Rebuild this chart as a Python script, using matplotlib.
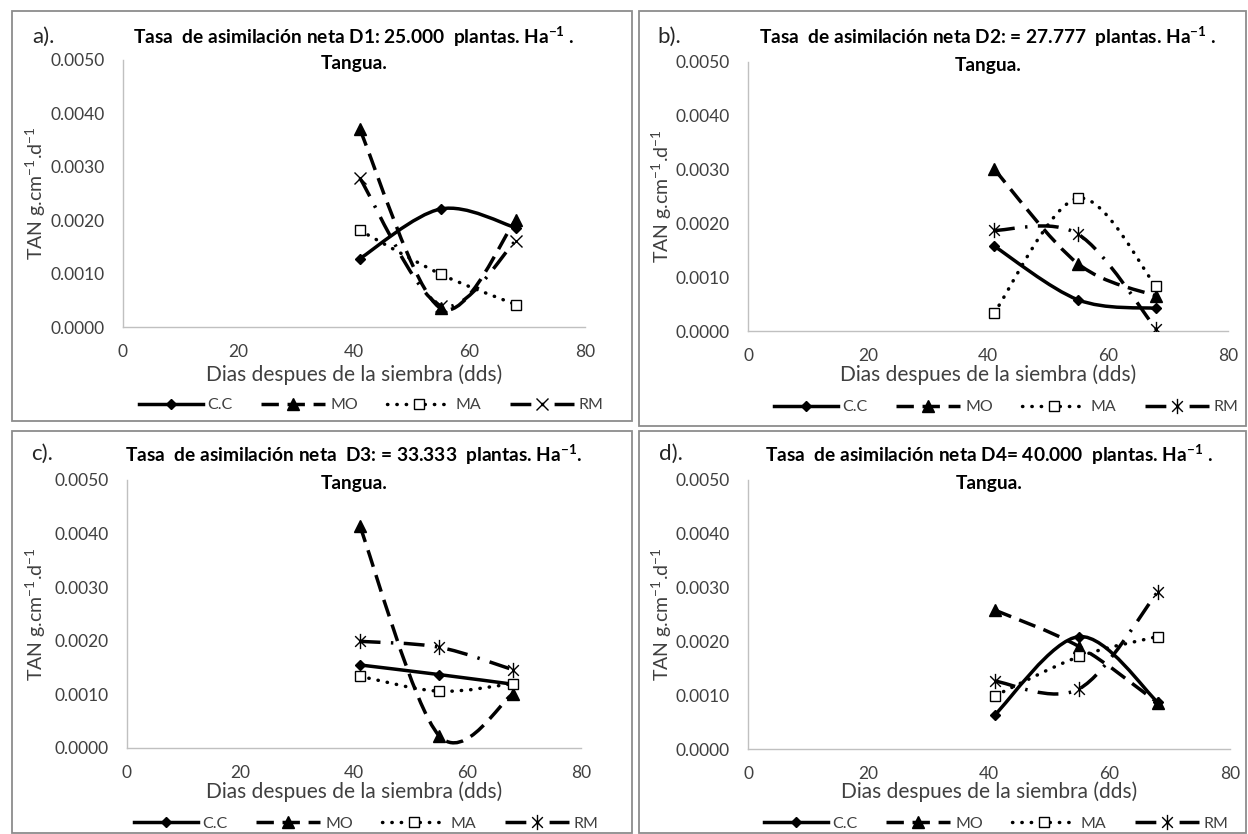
import numpy as np
import matplotlib
matplotlib.use('Agg')
import matplotlib.pyplot as plt
from matplotlib.path import Path
from matplotlib.patches import PathPatch, Rectangle
from matplotlib.lines import Line2D

plt.rcParams['font.family'] = ['Lato', 'DejaVu Sans']
plt.rcParams['mathtext.fontset'] = 'custom'
plt.rcParams['mathtext.rm'] = 'Lato'
plt.rcParams['mathtext.bf'] = 'Lato:bold'

# dias despues de la siembra
dias = [41, 55, 68]
series = ['C.C', 'MO', 'MA', 'RM']

# TAN por densidad (g.cm-1.d-1)
a_cc = [0.00128, 0.00221, 0.00186]
a_mo = [0.00370, 0.00035, 0.00200]
a_ma = [0.00181, 0.00099, 0.00042]
a_rm = [0.00279, 0.00040, 0.00161]

b_cc = [0.00158, 0.00058, 0.00042]
b_mo = [0.00301, 0.00125, 0.00065]
b_ma = [0.00033, 0.00247, 0.00083]
b_rm = [0.00187, 0.00180, 0.00004]

c_cc = [0.00155, 0.00137, 0.00119]
c_mo = [0.00415, 0.00023, 0.00101]
c_ma = [0.00134, 0.00106, 0.00120]
c_rm = [0.00199, 0.00188, 0.00146]

d_cc = [0.00064, 0.00209, 0.00087]
d_mo = [0.00258, 0.00190, 0.00086]
d_ma = [0.00099, 0.00172, 0.00209]
d_rm = [0.00126, 0.00112, 0.00292]

titulos = [
    r'Tasa  de asimilación neta D1: 25.000  plantas. Ha$^{\mathbf{-1}}$ .',
    r'Tasa  de asimilación neta D2: = 27.777  plantas. Ha$^{\mathbf{-1}}$ .',
    r'Tasa  de asimilación neta  D3: = 33.333  plantas. Ha$^{\mathbf{-1}}$.',
    r'Tasa  de asimilación neta D4= 40.000  plantas. Ha$^{\mathbf{-1}}$ .',
]
letras = ['a).', 'b).', 'c).', 'd).']

W, H = 1248, 834


def fx(x):
    return x / W


def fy(y):
    return 1 - y / H


# marcador estrella de Excel: X con linea vertical
estrella = Path([(-0.7, -0.7), (0.7, 0.7), (-0.7, 0.7), (0.7, -0.7), (0, -1), (0, 1)],
                [Path.MOVETO, Path.LINETO, Path.MOVETO, Path.LINETO, Path.MOVETO, Path.LINETO])

# estilos (C.C, MO, MA, RM)
estilos = [
    dict(ls='-', cap='round', marker='D', ms=5, mfc='k'),
    dict(ls=(0, (5, 2.5)), cap='butt', marker='^', ms=8, mfc='k'),
    dict(ls=(0, (0.1, 2.6)), cap='round', marker='s', ms=6.5, mfc='white'),
    dict(ls=(0, (6, 3, 0.7, 3)), cap='butt', marker='x', ms=9, mfc='k'),
]


def curva(xs, ys):
    # linea suavizada tipo Excel (Catmull-Rom como Bezier)
    pts = np.column_stack([xs, ys]).astype(float)
    n = len(pts)
    verts = [pts[0]]
    codes = [Path.MOVETO]
    for i in range(n - 1):
        p0 = pts[max(i - 1, 0)]
        p1 = pts[i]
        p2 = pts[i + 1]
        p3 = pts[min(i + 2, n - 1)]
        verts += [p1 + (p2 - p0) / 6, p2 - (p3 - p1) / 6, p2]
        codes += [Path.CURVE4] * 3
    return Path(verts, codes)


paneles = [
    dict(datos=[a_cc, a_mo, a_ma, a_rm], box=(123, 60, 585, 327), rm='x',
         lab=(32, 37), t1=37, t2=63, xl=375, yl=36, leg=(371, 405), frame=(12, 11, 632, 421)),
    dict(datos=[b_cc, b_mo, b_ma, b_rm], box=(748, 62, 1228, 331), rm=estrella,
         lab=(657, 37), t1=37, t2=65, xl=375, yl=662, leg=(1006, 407), frame=(639, 11, 1246, 426)),
    dict(datos=[c_cc, c_mo, c_ma, c_rm], box=(127, 480, 581, 748), rm=estrella,
         lab=(31, 454), t1=455, t2=484, xl=792, yl=36, leg=(366, 824), frame=(12, 431, 632, 833)),
    dict(datos=[d_cc, d_mo, d_ma, d_rm], box=(748, 480, 1230, 749), rm=estrella,
         lab=(659, 454), t1=455, t2=484, xl=792, yl=662, leg=(996, 824), frame=(639, 431, 1246, 833)),
]

fig = plt.figure(figsize=(W / 100, H / 100), dpi=100)

for k, p in enumerate(paneles):
    x0, y0, x1, y1, = p['frame']
    fig.add_artist(Rectangle((fx(x0), fy(y1)), fx(x1) - fx(x0), fy(y0) - fy(y1),
                             transform=fig.transFigure, fill=False, ec='#8c8c8c', lw=1.3))

    l, t, r, b = p['box']
    ax = fig.add_axes([fx(l), fy(b), fx(r) - fx(l), fy(t) - fy(b)])
    ax.set_xlim(0, 80)
    ax.set_ylim(0, 0.005)
    ax.set_xticks([0, 20, 40, 60, 80])
    ax.set_yticks(np.arange(0, 0.0051, 0.001))
    ax.yaxis.set_major_formatter(matplotlib.ticker.FormatStrFormatter('%.4f'))
    ax.tick_params(length=0, labelsize=12.5, colors='#404040')
    ax.tick_params(axis='y', pad=13)
    ax.tick_params(axis='x', pad=12)
    for s in ['top', 'right']:
        ax.spines[s].set_visible(False)
    for s in ['left', 'bottom']:
        ax.spines[s].set_color('#c0c0c0')
        ax.spines[s].set_linewidth(1)

    handles = []
    for j, (vals, est) in enumerate(zip(p['datos'], estilos)):
        mk = est['marker'] if j < 3 else p['rm']
        ms = est['ms'] if j < 3 else (9 if mk == 'x' else 11)
        patch = PathPatch(curva(dias, vals), fill=False, ec='k', lw=2.5,
                          linestyle=est['ls'], capstyle=est['cap'], joinstyle='round',
                          zorder=2 + j)
        ax.add_patch(patch)
        ax.plot(dias, vals, ls='none', marker=mk, ms=ms, mfc=est['mfc'],
                mec='k', mew=1.0, zorder=2.5 + j)
        h = Line2D([], [], color='k', lw=2.5, ls=est['ls'], marker=mk, ms=ms,
                   mfc=est['mfc'], mec='k', mew=1.0)
        h.set_dash_capstyle(est['cap'])
        handles.append(h)

    ax.set_xlabel('Dias despues de la siembra (dds)', fontsize=15, color='#404040')
    ax.xaxis.set_label_coords(0.5, (fy(p['xl']) - fy(b)) / (fy(t) - fy(b)))
    ax.xaxis.label.set_va('center')
    ax.set_ylabel(r'TAN g.cm$^{-1}$.d$^{-1}$', fontsize=14, color='#404040')
    ax.yaxis.set_label_coords((fx(p['yl']) - fx(l)) / (fx(r) - fx(l)), 0.5)
    ax.yaxis.label.set_va('center')

    cx = (l + r) / 2
    fig.text(fx(cx), fy(p['t1']), titulos[k], ha='center', va='center',
             fontsize=13.8, fontweight='bold', color='black')
    fig.text(fx(cx), fy(p['t2']), 'Tangua.', ha='center', va='center',
             fontsize=13.8, fontweight='bold', color='black')
    fig.text(fx(p['lab'][0]), fy(p['lab'][1]), letras[k], ha='left', va='center',
             fontsize=16, color='#262626')

    ax.legend(handles, series, loc='center', ncol=4, frameon=False,
              bbox_to_anchor=(fx(p['leg'][0]), fy(p['leg'][1])),
              bbox_transform=fig.transFigure, fontsize=11.5, labelcolor='#404040',
              handlelength=4.0, columnspacing=1.8, handletextpad=0.3, numpoints=1)

plt.savefig('out.png', dpi=100)
plt.close()
